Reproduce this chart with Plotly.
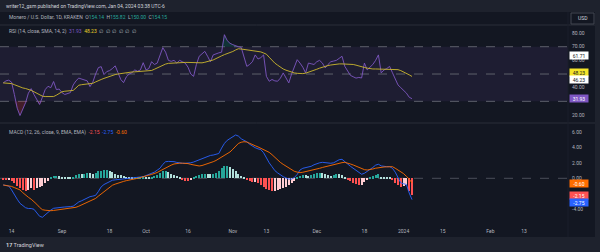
import plotly.graph_objects as go
import pandas as pd

# ---------------- data (daily, 2023-08-11 .. 2024-01-04) ----------------
start_date = "2023-08-11"
rsi = [43.5, 45, 45.5, 44, 35, 25, 19.6, 24, 29, 36,
       39.3, 35, 31, 27.7, 33, 38.6, 41, 40, 44.5, 38.6,
       39, 36.4, 35, 36, 36.4, 42, 45, 47, 46.5, 46,
       45, 40.8, 44, 50, 54.7, 55.4, 49.6, 51.8, 52.5, 54,
       56, 51, 46, 43.7, 48, 50, 51, 53, 52, 53,
       58.3, 53, 54, 59, 57, 58, 63, 69.3, 66, 60,
       59.3, 60, 58, 60, 59, 58, 55, 50, 48.3, 57,
       63, 65, 66.6, 63, 59, 64, 65, 65.5, 66, 78.8,
       74.5, 72.5, 71.5, 70.5, 70, 69.5, 62, 55.6, 57, 59,
       64, 61, 62, 64, 48.3, 44.7, 46, 45, 44.7, 47,
       50.8, 47, 43.5, 50, 56, 60.5, 58, 55, 50.8, 58,
       57.5, 57, 59, 60, 58, 54.5, 57, 59, 59.5, 60,
       61.5, 63, 55.6, 52, 49, 48, 47, 47.5, 47.1, 58,
       53, 55, 57, 60, 64, 50.8, 53, 54, 55.6, 51,
       47, 42, 40, 38, 36, 33, 31.93]
rsi_ma = [43.5, 43.4, 43.2, 43, 42.2, 41.2, 40.4, 39.8, 39.4, 38.8,
          38, 37, 36, 35, 33.8, 33.5, 33.5, 33.5, 33.5, 34.5,
          35.8, 37, 37.4, 37.6, 37.8, 38, 39.8, 41.8, 42.2, 42.4,
          42.5, 42.5, 43.2, 44.2, 45.3, 46, 46.8, 47.6, 48.3, 49,
          49.6, 50, 50.4, 50.8, 51.2, 51.4, 51.5, 51.6, 51.7, 51.8,
          51.9, 52, 52, 52.6, 53.5, 54.5, 55.5, 56.5, 57.3, 57.8,
          58, 58.2, 58.4, 58.5, 58.5, 58.5, 58.5, 58.4, 58.2, 58.1,
          58, 58.2, 58.6, 59, 59.5, 60.3, 61.3, 62.5, 63.3, 64.2,
          65, 65.4, 66.5, 67.6, 68.5, 68.3, 68, 67.5, 67.2, 67,
          66.8, 66.6, 66.2, 65.4, 64.5, 62.3, 60, 58, 56.5, 55,
          53.7, 52.8, 52, 51.2, 50.8, 50.5, 50.3, 50.3, 50.6, 51.2,
          52, 52.6, 53.5, 54.3, 55.1, 55.7, 56.2, 56.6, 57, 57.2,
          57.4, 57.4, 57.4, 57.4, 57.4, 57, 56.5, 55.8, 55.3, 54.8,
          54.3, 53.9, 53.7, 53.7, 53.7, 53.7, 53.7, 53.6, 53.5, 53.4,
          53.3, 53.2, 52.5, 51.6, 50.5, 49.4, 48.23]
macd = [-0.86, -0.95, -1.0, -1.5, -2.15, -2.7, -3.23, -3.5, -3.8, -3.9,
        -3.9, -4.0, -4.5, -4.9, -5.03, -4.7, -4.4, -4.1, -3.87, -3.8,
        -3.75, -3.74, -3.7, -3.7, -3.65, -3.6, -3.3, -3.05, -2.9, -2.7,
        -2.5, -2.37, -2.3, -2.2, -1.7, -1.1, -0.8, -0.6, -0.4, -0.25,
        -0.2, -0.15, -0.12, -0.1, -0.08, -0.05, 0.0, 0.05, 0.1, 0.15,
        0.21, 0.35, 0.5, 0.6, 0.8, 1.05, 1.3, 1.8, 2.14, 2.18,
        2.2, 2.15, 2.05, 1.95, 1.94, 1.94, 1.95, 2.0, 2.1, 2.25,
        2.36, 2.55, 2.75, 2.85, 2.95, 3.0, 3.08, 3.2, 3.9, 4.5,
        4.9, 5.16, 5.45, 5.59, 5.45, 5.1, 4.9, 4.72, 4.4, 4.15,
        3.95, 3.8, 3.7, 3.3, 2.6, 2.0, 1.5, 1.0, 0.7, 0.4,
        0.21, 0.05, -0.1, -0.1, 0.1, 0.5, 1.07, 1.29, 1.35, 1.4,
        1.55, 1.75, 1.9, 2.0, 2.06, 2.0, 1.95, 1.94, 2.0, 2.2,
        2.4, 2.45, 2.1, 1.85, 1.55, 1.3, 1.0, 0.7, 0.52, 0.65,
        0.88, 1.1, 1.4, 1.7, 1.81, 1.6, 1.5, 1.5, 1.5, 1.3,
        0.8, 0.1, -0.6, -0.7, -0.8, -1.9, -2.75]
signal = [-0.86, -0.9, -0.98, -1.05, -1.2, -1.35, -1.5, -1.85, -2.2, -2.45,
          -2.7, -3.0, -3.35, -3.75, -4.05, -4.12, -4.17, -4.18, -4.15, -4.1,
          -4.0, -3.95, -3.9, -3.85, -3.8, -3.77, -3.74, -3.6, -3.45, -3.3,
          -3.15, -3.0, -2.8, -2.6, -2.3, -2.0, -1.7, -1.4, -1.15, -0.9,
          -0.75, -0.6, -0.5, -0.4, -0.3, -0.2, -0.13, -0.08, 0.0, 0.08,
          0.15, 0.25, 0.4, 0.5, 0.6, 0.75, 0.95, 1.16, 1.35, 1.55,
          1.7, 1.85, 1.94, 1.95, 1.95, 1.94, 1.9, 1.8, 1.7, 1.62,
          1.59, 1.65, 1.75, 1.9, 2.0, 2.14, 2.3, 2.5, 2.7, 2.9,
          3.1, 3.4, 3.75, 4.15, 4.5, 4.65, 4.72, 4.68, 4.55, 4.35,
          4.2, 4.05, 3.9, 3.75, 3.6, 3.35, 3.05, 2.7, 2.35, 2.05,
          1.8, 1.55, 1.3, 1.1, 0.9, 0.8, 0.73, 0.78, 0.85, 0.92,
          1.0, 1.1, 1.2, 1.29, 1.4, 1.5, 1.58, 1.65, 1.72, 1.85,
          1.95, 2.02, 2.06, 1.98, 1.85, 1.72, 1.55, 1.4, 1.25, 1.12,
          1.07, 1.1, 1.2, 1.3, 1.37, 1.42, 1.46, 1.48, 1.5, 1.5,
          1.3, 1.1, 0.85, 0.6, 0.25, -0.1, -0.6]
hist = [-0.1, -0.15, -0.12, -0.3, -0.6, -0.95, -1.3, -1.55, -1.64, -1.5,
        -1.3, -1.45, -1.3, -1.15, -1.0, -0.6, -0.3, 0.1, 0.28, 0.3,
        0.25, 0.21, 0.2, 0.15, 0.15, 0.2, 0.44, 0.55, 0.5, 0.6,
        0.7, 0.65, 0.55, 0.7, 0.9, 1.0, 1.05, 1.07, 0.9, 0.75,
        0.6, 0.45, 0.38, 0.3, 0.22, 0.15, 0.13, 0.18, 0.2, 0.22,
        0.25, 0.2, 0.15, 0.2, 0.3, 0.45, 0.7, 0.95, 1.0, 0.8,
        0.6, 0.45, 0.3, 0.15, -0.1, -0.35, -0.4, -0.25, 0.1, 0.35,
        0.45, 0.5, 0.6, 0.55, 0.5, 0.55, 0.7, 0.9, 1.3, 1.55,
        1.59, 1.5, 1.2, 0.9, 0.6, 0.3, 0.1, -0.15, -0.4, -0.5,
        -0.45, -0.6, -0.8, -1.1, -1.4, -1.55, -1.64, -1.6, -1.5, -1.4,
        -1.3, -1.1, -0.9, -0.6, -0.3, 0.1, 0.34, 0.45, 0.4, 0.3,
        0.4, 0.55, 0.65, 0.71, 0.66, 0.5, 0.4, 0.35, 0.45, 0.55,
        0.55, 0.45, 0.1, -0.2, -0.4, -0.6, -0.75, -0.86, -0.8, -0.5,
        -0.2, 0.05, 0.25, 0.45, 0.52, 0.2, 0.1, 0.05, 0.05, -0.1,
        -0.56, -0.9, -1.16, -1.0, -0.85, -1.7, -2.15]

time_tick_dates = ["2023-08-14", "2023-09-01", "2023-09-18", "2023-10-01", "2023-10-16",
                   "2023-11-01", "2023-11-13", "2023-12-01", "2023-12-18", "2024-01-01",
                   "2024-01-15", "2024-02-01", "2024-02-13"]
time_tick_text = ["14", "Sep", "18", "Oct", "16", "Nov", "13", "Dec", "18", "2024", "15", "Feb", "13"]
rsi_ticks = [20, 40, 60, 70, 80]
macd_ticks = [-4, 0, 2, 4, 6]

# ---------------- styling ----------------
W, H = 600, 252
BG = "#131722"
BAR = "#1e222d"
TXT = "#b2b5be"
FONT = "Roboto"
PLOT_R = 568 / W

def py(ypx):
    return 1 - ypx / H

dates = pd.date_range(start_date, periods=len(rsi), freq="D")
x_range = ["2023-08-09 20:40", "2024-02-28 17:00"]

hist_colors = []
prev = 0.0
for h in hist:
    if h >= 0:
        hist_colors.append("#26a69a" if h > prev else "#b2dfdb")
    else:
        hist_colors.append("#ff5252" if h < prev else "#ffcdd2")
    prev = h

fig = go.Figure()

# RSI overbought / oversold fills
fig.add_trace(go.Scatter(x=dates, y=[30] * len(rsi), mode="lines", line=dict(width=0),
                         hoverinfo="skip", showlegend=False, xaxis="x", yaxis="y"))
fig.add_trace(go.Scatter(x=dates, y=[min(r, 30) for r in rsi], mode="lines", line=dict(width=0),
                         fill="tonexty", fillcolor="rgba(242,54,69,0.22)",
                         hoverinfo="skip", showlegend=False, xaxis="x", yaxis="y"))
fig.add_trace(go.Scatter(x=dates, y=[70] * len(rsi), mode="lines", line=dict(width=0),
                         hoverinfo="skip", showlegend=False, xaxis="x", yaxis="y"))
fig.add_trace(go.Scatter(x=dates, y=[max(r, 70) for r in rsi], mode="lines", line=dict(width=0),
                         fill="tonexty", fillcolor="rgba(8,153,129,0.22)",
                         hoverinfo="skip", showlegend=False, xaxis="x", yaxis="y"))

fig.add_trace(go.Scatter(x=dates, y=rsi, mode="lines", line=dict(color="#7e57c2", width=0.9),
                         showlegend=False, xaxis="x", yaxis="y"))
fig.add_trace(go.Scatter(x=dates, y=rsi_ma, mode="lines", line=dict(color="#cdb82e", width=0.9),
                         showlegend=False, xaxis="x", yaxis="y"))

fig.add_trace(go.Bar(x=dates, y=hist, marker=dict(color=hist_colors, line=dict(width=0)),
                     width=86400000 * 0.72, showlegend=False, xaxis="x2", yaxis="y2"))
fig.add_trace(go.Scatter(x=dates, y=macd, mode="lines", line=dict(color="#2962ff", width=0.9),
                         showlegend=False, xaxis="x2", yaxis="y2"))
fig.add_trace(go.Scatter(x=dates, y=signal, mode="lines", line=dict(color="#ff6d00", width=0.9),
                         showlegend=False, xaxis="x2", yaxis="y2"))

shapes = []
# background strips
shapes.append(dict(type="rect", xref="paper", yref="paper", x0=0, x1=1, y0=py(12), y1=1,
                   fillcolor=BAR, line_width=0, layer="below"))
shapes.append(dict(type="rect", xref="paper", yref="paper", x0=0, x1=1, y0=0, y1=py(237),
                   fillcolor=BAR, line_width=0, layer="below"))
shapes.append(dict(type="rect", xref="paper", yref="paper", x0=595 / W, x1=1, y0=0, y1=1,
                   fillcolor=BAR, line_width=0, layer="below"))
# pane separators
for ysep in [25, 123]:
    shapes.append(dict(type="line", xref="paper", yref="paper", x0=0, x1=595 / W,
                       y0=py(ysep), y1=py(ysep), line=dict(color="#2a2e39", width=1)))
shapes.append(dict(type="line", xref="paper", yref="paper", x0=PLOT_R, x1=PLOT_R,
                   y0=py(237), y1=py(12), line=dict(color="#1b1f2a", width=1)))
# RSI band
shapes.append(dict(type="rect", xref="x domain", yref="y", x0=0, x1=1, y0=30, y1=70,
                   fillcolor="rgba(126,87,194,0.10)", line_width=0, layer="below"))
for lvl in [70, 50, 30]:
    shapes.append(dict(type="line", xref="x domain", yref="y", x0=0, x1=1, y0=lvl, y1=lvl,
                       line=dict(color="#5d606b", width=1, dash="dash"), layer="below"))
# MACD zero line
shapes.append(dict(type="line", xref="x2 domain", yref="y2", x0=0, x1=1, y0=0, y1=0,
                   line=dict(color="#4a4e59", width=1, dash="dash"), layer="below"))
# USD box
shapes.append(dict(type="rect", xref="paper", yref="paper", x0=571 / W, x1=594 / W,
                   y0=py(24), y1=py(13), line=dict(color="#434651", width=1), fillcolor=BG))

annotations = []

def txt(x, y, text, size=5, color=TXT, xanchor="left"):
    annotations.append(dict(xref="paper", yref="paper", x=x / W, y=py(y), text=text,
                            showarrow=False, xanchor=xanchor, yanchor="middle",
                            font=dict(family=FONT, size=size, color=color)))

txt(4, 6, "writer12_gsm published on TradingView.com, Jan 04, 2024 03:38 UTC-6", 5, "#d1d4dc")
G = "#26a69a"
txt(7, 17.5, "Monero / U.S. Dollar, 1D, KRAKEN  "
    f"O<span style='color:{G}'>154.14</span>  H<span style='color:{G}'>155.82</span>  "
    f"L<span style='color:{G}'>150.00</span>  C<span style='color:{G}'>154.15</span>", 5, TXT)
txt(7, 31, "RSI (14, close, SMA, 14, 2)  <span style='color:#7e57c2'>31.93</span>  "
    "<span style='color:#e8d22a'>48.23</span>  ∅  ∅  ∅  ∅  ∅  ∅", 5, TXT)
txt(7, 132, "MACD (12, 26, close, 9, EMA, EMA)  <span style='color:#ff5252'>-2.15</span>  "
    "<span style='color:#2962ff'>-2.75</span>  <span style='color:#ff6d00'>-0.60</span>", 5, TXT)
txt(582.5, 18.5, "USD", 5, "#d1d4dc", xanchor="center")
txt(4, 244.5, "<b>17</b> TradingView", 5.5, "#d1d4dc")

def label(ypx, text, bg, fg):
    annotations.append(dict(xref="paper", yref="paper", x=569 / W, y=py(ypx), text=text,
                            showarrow=False, xanchor="left", yanchor="middle",
                            width=18, height=7, bgcolor=bg, borderpad=0, align="center",
                            font=dict(family=FONT, size=5, color=fg)))

label(55.8, "61.71", "#ffffff", "#131722")
label(72.3, "48.23", "#f5e52a", "#131722")
label(79.7, "46.23", "#ffffff", "#131722")
label(99.0, "31.93", "#7e57c2", "#ffffff")
label(183.0, "-0.60", "#ff6d00", "#ffffff")
label(195.5, "-2.15", "#ff5252", "#ffffff")
label(202.3, "-2.75", "#2962ff", "#ffffff")

axis_font = dict(family=FONT, size=5, color=TXT)
fig.update_layout(
    width=W, height=H, margin=dict(l=0, r=0, t=0, b=0),
    paper_bgcolor=BG, plot_bgcolor=BG, bargap=0, showlegend=False,
    xaxis=dict(domain=[0, PLOT_R], range=x_range, type="date", anchor="y",
               showticklabels=False, showgrid=False, zeroline=False, showline=False, ticks=""),
    xaxis2=dict(domain=[0, PLOT_R], range=x_range, type="date", anchor="y2", matches="x",
                tickvals=time_tick_dates, ticktext=time_tick_text, tickfont=axis_font,
                showgrid=False, zeroline=False, showline=False, ticks="", ticklabelstandoff=5),
    yaxis=dict(domain=[py(121), py(25)], range=[15.6, 85.9], anchor="x", side="right",
               tickvals=rsi_ticks, ticktext=[f"{v:.2f}" for v in rsi_ticks], tickfont=axis_font,
               showgrid=False, zeroline=False, showline=False, ticks="", ticklabelstandoff=3),
    yaxis2=dict(domain=[py(222), py(125)], range=[-5.64, 6.88], anchor="x2", side="right",
                tickvals=macd_ticks, ticktext=[f"{v:.2f}" for v in macd_ticks], tickfont=axis_font,
                showgrid=False, zeroline=False, showline=False, ticks="", ticklabelstandoff=3),
    shapes=shapes, annotations=annotations,
)

fig.write_html("out.html")
